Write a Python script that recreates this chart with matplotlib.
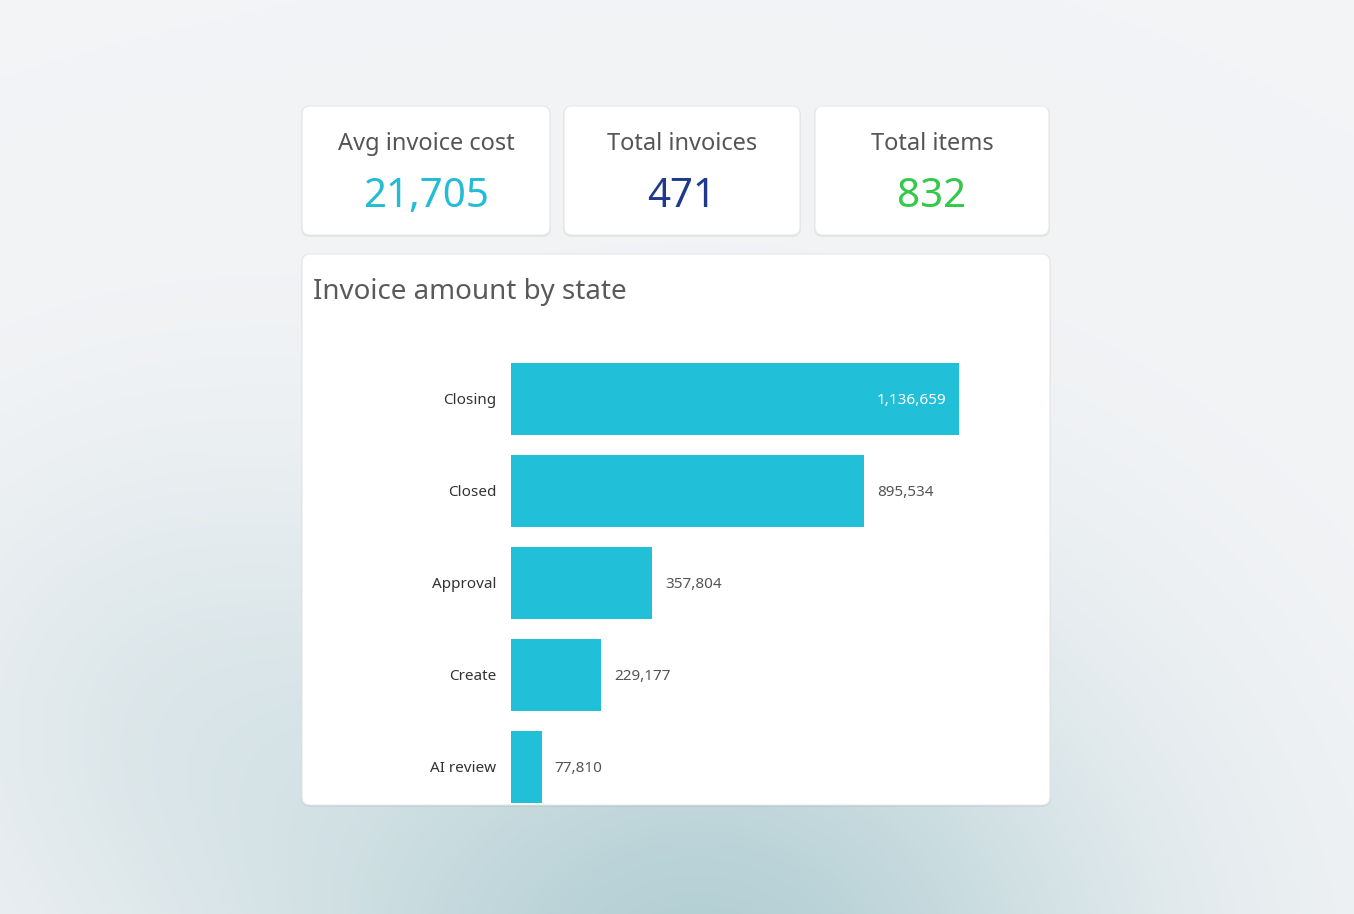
import numpy as np
import matplotlib
matplotlib.use("Agg")
import matplotlib.pyplot as plt
from matplotlib.patches import FancyBboxPatch

plt.rcParams['font.family'] = ['Noto Sans', 'DejaVu Sans']

# data
states = ["Closing", "Closed", "Approval", "Create", "AI review"]
amounts = [1136659, 895534, 357804, 229177, 77810]
kpi_titles = ["Avg invoice cost", "Total invoices", "Total items"]
kpi_values = [21705, 471, 832]
kpi_colors = ["#22bcd6", "#1f3a8c", "#33c94a"]

W, H = 1354, 914
fig = plt.figure(figsize=(W / 100, H / 100), dpi=100)

# background, pixel coords
bg = fig.add_axes([0, 0, 1, 1])
yy, xx = np.mgrid[0:H, 0:W]
top = np.array([0.953, 0.957, 0.965])
teal = np.array([0.70, 0.81, 0.83])
w = np.exp(-((xx - 700) / 430.0) ** 2 - ((yy - 1000) / 400.0) ** 2)
w2 = 0.25 * np.exp(-((xx - 150) / 260.0) ** 2 - ((yy - 700) / 260.0) ** 2)
w = np.clip(w + w2, 0, 1)
img = top[None, None, :] * (1 - w[..., None]) + teal[None, None, :] * w[..., None]
bg.imshow(img, extent=(0, W, H, 0), aspect='auto', zorder=0)
bg.set_xlim(0, W)
bg.set_ylim(H, 0)
bg.axis('off')


def card(x0, y0, x1, y1):
    sh = FancyBboxPatch((x0 - 1, y0), x1 - x0 + 2, y1 - y0 + 2,
                        boxstyle="round,pad=0,rounding_size=9",
                        facecolor="#000000", alpha=0.06, edgecolor='none', zorder=1)
    bg.add_patch(sh)
    p = FancyBboxPatch((x0, y0), x1 - x0, y1 - y0,
                       boxstyle="round,pad=0,rounding_size=8",
                       facecolor="white", edgecolor="#e8e8e8", linewidth=0.8, zorder=2)
    bg.add_patch(p)


card_boxes = [(302, 106, 550, 235), (564, 106, 800, 235), (815, 106, 1049, 235)]
for (x0, y0, x1, y1), t, v, c in zip(card_boxes, kpi_titles, kpi_values, kpi_colors):
    card(x0, y0, x1, y1)
    cx = (x0 + x1) / 2
    bg.text(cx, 141, t, ha='center', va='center_baseline', fontsize=17, color='#555555', zorder=3)
    bg.text(cx, 192, f"{v:,}", ha='center', va='center_baseline', fontsize=29, color=c, zorder=3)

card(302, 254, 1050, 805)
bg.text(313, 288, "Invoice amount by state", ha='left', va='center_baseline',
        fontsize=20, color='#5a5a5a', zorder=3)

# bar chart
left, right, ytop, ybot = 511, 1040, 340, 805
ax = fig.add_axes([left / W, 1 - ybot / H, (right - left) / W, (ybot - ytop) / H])
ax.set_facecolor('none')
pitch = 92.0
ypos = np.arange(len(states))
ax.barh(ypos, amounts, height=72 / pitch, color="#21c0d8", edgecolor='none')
xmax = amounts[0] * (right - left) / 448.0
ax.set_xlim(0, xmax)
ax.set_ylim((ybot - 399) / pitch, (ytop - 399) / pitch)
ax.set_yticks(ypos)
ax.set_yticklabels(states, fontsize=11, color='#333333', va='center_baseline')
ax.tick_params(axis='y', length=0, pad=10.5)
ax.set_xticks([])
for s in ax.spines.values():
    s.set_visible(False)

for i, v in enumerate(amounts):
    if i == 0:
        ax.annotate(f"{v:,}", (v, i), xytext=(-9.5, 0), textcoords='offset points',
                    ha='right', va='center_baseline', fontsize=11, color='white',
                    fontweight='bold')
    else:
        ax.annotate(f"{v:,}", (v, i), xytext=(9.5, 0), textcoords='offset points',
                    ha='left', va='center_baseline', fontsize=11, color='#555555')

fig.savefig("out.png", dpi=100)
